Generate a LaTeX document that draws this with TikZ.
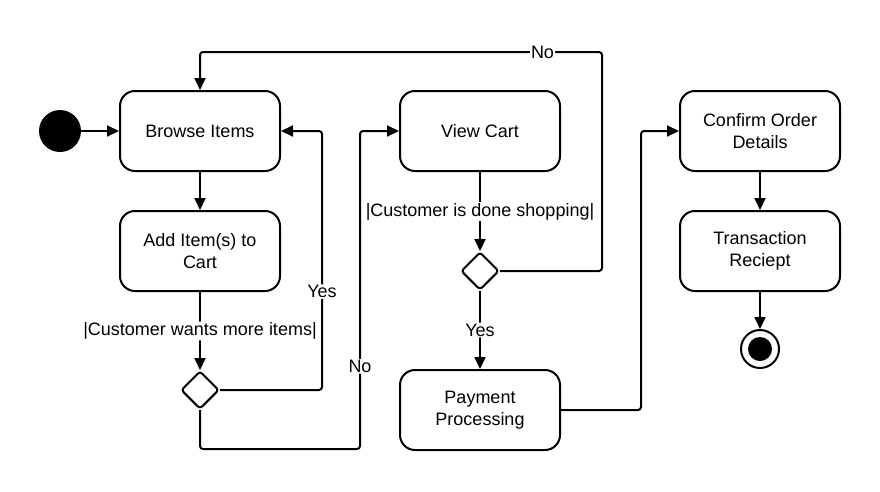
\documentclass[tikz,border=0pt]{standalone}
\usepackage{fontspec}
\setmainfont{Liberation Sans}
\usetikzlibrary{positioning,arrows.meta,shapes.geometric,calc}
\tikzset{
  activity/.style = {shape=rectangle, rounded corners=15pt,
                     draw, line width=2pt, align=center,
                     minimum width=160pt, minimum height=80pt},
  decision/.style = {shape=diamond, draw, line width=2pt, rounded corners=3pt,
                     inner sep=0pt, minimum width=38pt, minimum height=38pt},
  startdot/.style = {circle, fill=black, inner sep=0pt, minimum size=42pt},
  enddot/.style   = {circle, draw, line width=2pt, inner sep=0pt, minimum size=38pt,
                     path picture={\fill (path picture bounding box.center) circle (12pt);}},
  guard/.style    = {fill=white, inner sep=1pt},
}
\begin{document}
\begin{tikzpicture}[
        x                 = 1pt,
        y                 = -1pt,
        every node/.style = {font=\fontsize{18}{21.5}\selectfont},
        flow/.style       = {draw, line width=2pt, rounded corners=3pt,
                             -{Triangle[length=12pt,width=11pt]}}
    ]
    \useasboundingbox (0,0) rectangle (880,491);
    \node [startdot] (start) at (60,131) {};
    \node [activity] (browse) at (200,131) {Browse Items};
    \node [activity, below=38pt of browse] (additem) {Add Item(s) to\\Cart};
    \node [decision, below=78pt of additem] (more) {};
    \node [activity] (viewcart) at (480,131) {View Cart};
    \node [decision, below=79pt of viewcart] (done) {};
    \node [activity, below=78pt of done] (payment) {Payment\\Processing};
    \node [activity] (confirm) at (760,131) {Confirm Order\\Details};
    \node [activity, below=38pt of confirm] (receipt) {Transaction\\Reciept};
    \node [enddot, below=37pt of receipt] (stop) {};

    \draw [flow] (start) -- (browse);
    \draw [flow] (browse) -- (additem);
    \draw [flow] (additem) -- node [guard] {|Customer wants more items|} (more);
    \draw [flow] (more.east) -- ++(102,0) |- node [guard, pos=0.19] {Yes} (browse.east);
    \draw [flow] (more.south) |- ++(160,39) |- node [guard, pos=0.13] {No} (viewcart.west);
    \draw [flow] (viewcart) -- node [guard] {|Customer is done shopping|} (done);
    \draw [flow] (done.east) -- ++(102,0) -- ++(0,-219) -| node [guard, pos=0.074] {No} (browse.north);
    \draw [flow] (done) -- node [guard] {Yes} (payment);
    \draw [flow] (payment.east) -- ++(80,0) |- (confirm.west);
    \draw [flow] (confirm) -- (receipt);
    \draw [flow] (receipt) -- (stop);
\end{tikzpicture}
\end{document}
